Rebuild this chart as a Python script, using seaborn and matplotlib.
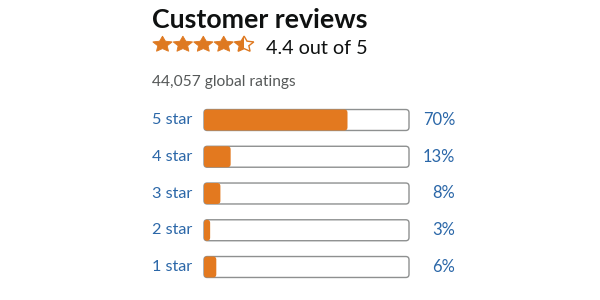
import matplotlib
matplotlib.use("Agg")
import matplotlib.pyplot as plt
import seaborn as sns
import pandas as pd
from matplotlib.patches import FancyBboxPatch, Polygon, Rectangle
import numpy as np

categories = ["5 star", "4 star", "3 star", "2 star", "1 star"]
percents = [70, 13, 8, 3, 6]
pct_labels = ["70%", "13%", "8%", "3%", "6%"]
title = "Customer reviews"
rating = 4.4
rating_text = "4.4 out of 5"
ratings_count_text = "44,057 global ratings"

sns.set_theme(style="white")
plt.rcParams["font.family"] = ["Lato", "DejaVu Sans"]

W, H = 600, 300
fig = plt.figure(figsize=(6, 3), dpi=100)
fig.patch.set_facecolor("white")

# axes: x 0..100 -> 204..409 px ; rows centred 120..267 px
row_gap = 36.75
top_px = 120 - row_gap / 2
bot_px = 267 + row_gap / 2
ax = fig.add_axes([204 / W, 1 - bot_px / H, 205 / W, (bot_px - top_px) / H])

df = pd.DataFrame({"cat": categories, "pct": percents, "full": [100] * len(categories)})
ORANGE = "#E3791F"
BLUE = "#2B67A8"
sns.barplot(data=df, x="full", y="cat", order=categories, color="white",
            edgecolor="#8E9090", linewidth=1.0, width=0.57, ax=ax, saturation=1)
sns.barplot(data=df, x="pct", y="cat", order=categories, color=ORANGE,
            linewidth=0, width=0.57, ax=ax, saturation=1)

ax.set_xlim(0, 100)
ax.set_ylim(len(categories) - 0.5, -0.5)

# round the bar corners
px_x = 205 / 100.0
px_y = row_gap
aspect = px_x / px_y
for p in list(ax.patches):
    x0, y0 = p.get_x(), p.get_y()
    w, h = p.get_width(), p.get_height()
    fb = FancyBboxPatch((x0, y0), w, h,
                        boxstyle="round,pad=0,rounding_size=%f" % (3.2 / px_x),
                        mutation_aspect=aspect,
                        facecolor=p.get_facecolor(), edgecolor=p.get_edgecolor(),
                        linewidth=p.get_linewidth(), zorder=p.get_zorder(),
                        clip_on=False)
    p.remove()
    ax.add_patch(fb)

for s in ax.spines.values():
    s.set_visible(False)
ax.set_xticks([])
ax.set_yticks([])
ax.set_xlabel("")
ax.set_ylabel("")

for i, (c, lab) in enumerate(zip(categories, pct_labels)):
    ax.text((152 - 204) / px_x, i, c, ha="left", va="center", color=BLUE,
            fontsize=11.7, clip_on=False)
    ax.text((455 - 204) / px_x, i, lab, ha="right", va="center", color=BLUE,
            fontsize=11.9, clip_on=False)

# header
fig.text(152 / W, 1 - 28.5 / H, title, ha="left", va="baseline", fontsize=19.3,
         fontweight="bold", color="#0F1111")
fig.text(265.5 / W, 1 - 54 / H, rating_text, ha="left", va="baseline", fontsize=14.2,
         color="#0F1111")
fig.text(152.5 / W, 1 - 86 / H, ratings_count_text, ha="left", va="baseline",
         fontsize=11.2, color="#565959")

# stars
def star_pts(cx, cy, R, r, sy):
    pts = []
    for k in range(10):
        ang = np.pi / 2 + k * np.pi / 5
        rad = R if k % 2 == 0 else r
        pts.append((cx + rad * np.cos(ang), cy + sy * rad * np.sin(ang)))
    return np.array(pts)

tr = fig.transFigure
STAR = "#DE7921"
R = 10.2
for k in range(5):
    cx = 162.5 + 20.4 * k
    cy = H - 44.5
    pts = star_pts(cx, cy, R, 5.0, 0.82)
    ptsf = pts / np.array([W, H])
    frac = min(max(rating - k, 0), 1)
    if frac >= 1:
        fig.patches.append(Polygon(ptsf, closed=True, transform=tr,
                                   facecolor=STAR, edgecolor=STAR, linewidth=0.6))
    else:
        outline = Polygon(ptsf, closed=True, transform=tr, facecolor="none",
                          edgecolor=STAR, linewidth=1.0)
        fig.patches.append(outline)
        if frac > 0:
            filled = Polygon(ptsf, closed=True, transform=tr, facecolor=STAR,
                             edgecolor="none")
            clip = Rectangle(((cx - R - 1) / W, (cy - 11) / H), (R + 1) / W, 22 / H,
                             transform=tr, facecolor="none", edgecolor="none")
            fig.patches.append(clip)
            filled.set_clip_path(clip)
            fig.patches.append(filled)

fig.savefig("out.png", dpi=100, facecolor="white")
